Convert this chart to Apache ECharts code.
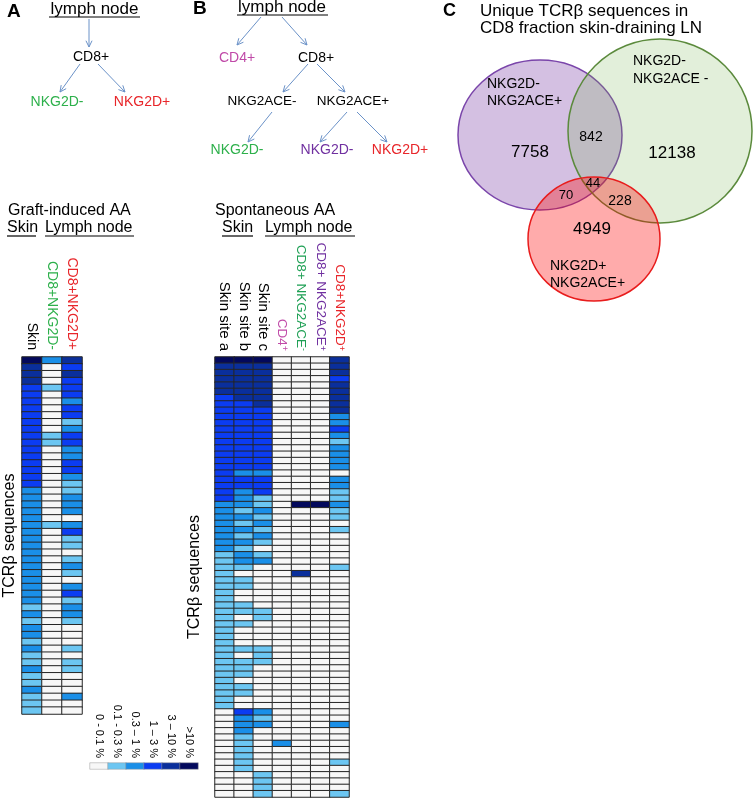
<!DOCTYPE html>
<html><head><meta charset="utf-8">
<script src="https://cdn.jsdelivr.net/npm/echarts@6/dist/echarts.min.js"></script>
<style>html,body{margin:0;padding:0;background:#fff}#c{width:754px;height:799px}</style>
</head><body><div id="c"></div>
<script>
// ---------------- DATA ----------------
const levelLabels = ['0 - 0.1 %', '0.1 - 0.3 %', '0.3 – 1 %', '1 – 3 %', '3 – 10 %', '>10 %'];
const levelValues = [0, 1, 2, 3, 4, 5];

// Panel A: graft-induced AA (level index per TCRβ sequence row)
const colsA = ['Skin', 'CD8+NKG2D-', 'CD8+NKG2D+'];
const skinA = [5,4,4,4,3,3,3,3,3,3, 3,3,3,3,3,3,3,3,3,2, 2,2,2,2,2,2,2,2,2,2, 2,2,2,2,2,2,1,2,1,2, 2,1,2,1,1,2,1,1,2,1, 1,1];
const nkg2dNegA = [2,0,0,0,1,0,0,0,0,0, 0,1,1,0,0,0,0,0,0,0, 0,0,0,0,1,0,0,0,0,0, 0,0,0,0,0,0,0,0,0,0, 0,0,0,0,0,0,0,0,0,0, 0,0];
const nkg2dPosA = [4,3,4,3,3,3,2,3,3,1, 2,3,3,2,2,3,3,2,1,1, 2,2,2,0,2,3,1,1,0,1, 2,1,0,2,3,1,2,2,1,0, 0,0,1,0,1,1,0,0,0,2, 0,0];

// Panel B: spontaneous AA
const colsB = ['Skin site a', 'Skin site b', 'Skin site c', 'CD4⁺', 'CD8+ NKG2ACE⁻', 'CD8+ NKG2ACE⁺', 'CD8+NKG2D⁺'];
const siteaB = [5,4,4,4,4,4,3,3,3,3, 3,3,3,3,3,3,3,3,3,3, 3,3,3,2,2,2,2,2,2,2, 2,1,1,1,1,1,1,1,1,1, 1,1,1,1,1,1,1,1,1,1, 1,1,1,1,1,1,0,0,0,0, 0,0,0,0,0,0,0,0,0,0];
const sitebB = [5,4,4,4,4,4,4,3,3,3, 3,3,3,3,3,3,3,3,2,3, 3,2,2,2,1,2,1,2,1,2, 1,2,2,1,0,1,1,0,0,1, 1,0,1,0,0,0,1,0,1,1, 1,0,1,1,0,0,3,2,2,2, 1,1,1,1,1,1,0,0,0,0];
const sitecB = [5,4,4,4,4,4,4,4,3,3, 3,3,3,3,3,3,3,3,2,3, 3,3,1,1,2,1,2,1,2,1, 0,1,2,0,0,0,0,0,0,0, 1,1,0,0,0,0,1,1,1,0, 0,0,0,0,0,0,2,1,2,0, 0,0,0,0,0,0,1,1,1,1];
const cd4B   = [0,0,0,0,0,0,0,0,0,0, 0,0,0,0,0,0,0,0,0,0, 0,0,0,0,0,0,0,0,0,0, 0,0,0,0,0,0,0,0,0,0, 0,0,0,0,0,0,0,0,0,0, 0,0,0,0,0,0,0,0,0,0, 0,2,0,0,0,0,0,0,0,0];
const aceNegB = [0,0,0,0,0,0,0,0,0,0, 0,0,0,0,0,0,0,0,0,0, 0,0,0,5,0,0,0,0,0,0, 0,0,0,0,4,0,0,0,0,0, 0,0,0,0,0,0,0,0,0,0, 0,0,0,0,0,0,0,0,0,0, 0,0,0,0,0,0,0,0,0,0];
const acePosB = [0,0,0,0,0,0,0,0,0,0, 0,0,0,0,0,0,0,0,0,0, 0,0,0,5,0,0,0,0,0,0, 0,0,0,0,0,0,0,0,0,0, 0,0,0,0,0,0,0,0,0,0, 0,0,0,0,0,0,0,0,0,0, 0,0,0,0,0,0,0,0,0,0];
const nkg2dPosB = [4,4,4,3,4,4,4,4,4,2, 2,3,2,1,2,2,2,2,0,2, 2,1,1,2,1,1,0,1,0,0, 0,0,0,1,0,0,0,0,0,0, 0,0,0,0,0,0,0,0,0,0, 0,0,0,0,0,0,0,0,2,0, 0,0,0,0,1,0,0,0,0,1];

// Panel C: Venn counts
const vennSetNames = [['NKG2D-', 'NKG2ACE+'], ['NKG2D-', 'NKG2ACE -'], ['NKG2D+', 'NKG2ACE+']];
const vennOnly = [7758, 12138, 4949];
const vennPairs = [842, 70, 228]; // purple∩green, purple∩red, green∩red
const vennAll = 44;

// ---------------- STYLE ----------------
const FONT = 'Liberation Sans, Arial, sans-serif';
const levelColors = ['#f7f7f7', '#6cc6f2', '#1a8fe8', '#0b3cf2', '#0a2f9c', '#03095c'];
const colColorsA = ['#000000', '#2db04b', '#e8262a'];
const labelKeysB = ['k', 'k', 'k', 'p', 'g', 'u', 'r'];
const richB = {
  k: { fontSize: 15, color: '#000', fontFamily: FONT },
  p: { fontSize: 13.5, color: '#c04aa8', fontFamily: FONT }, ps: { fontSize: 9, color: '#c04aa8', fontFamily: FONT, verticalAlign: 'top' },
  g: { fontSize: 13.5, color: '#1fa055', fontFamily: FONT }, gs: { fontSize: 9, color: '#1fa055', fontFamily: FONT, verticalAlign: 'top' },
  u: { fontSize: 13.5, color: '#7030a0', fontFamily: FONT }, us: { fontSize: 9, color: '#7030a0', fontFamily: FONT, verticalAlign: 'top' },
  r: { fontSize: 13.5, color: '#e8262a', fontFamily: FONT }, rs: { fontSize: 9, color: '#e8262a', fontFamily: FONT, verticalAlign: 'top' }
};
function fmtB(value, idx) {
  const k = labelKeysB[idx];
  const m = value.match(/^(.*?)([⁺⁻])$/);
  if (m) return '{' + k + '|' + m[1] + '}{' + k + 's|' + (m[2] === '⁺' ? '+' : '-') + '}';
  return '{' + k + '|' + value + '}';
}

function toCells(cols) {
  const out = [];
  cols.forEach((arr, c) => arr.forEach((v, r) => out.push([c, r, v])));
  return out;
}
const rowsA = skinA.map((_, i) => String(i));
const rowsB = siteaB.map((_, i) => String(i));

const cellStyle = { borderColor: '#262626', borderWidth: 1 };

function txt(x, y, text, o) {
  o = o || {};
  return { type: 'text', x: x, y: y, silent: true, z: 10,
    style: { text: text, fontSize: o.size || 14, fontFamily: FONT, fontWeight: o.weight || 'normal',
      fill: o.color || '#000', align: o.align || 'center', verticalAlign: o.valign || 'middle' } };
}
function seg(x1, y1, x2, y2, color, w) {
  return { type: 'line', silent: true, shape: { x1, y1, x2, y2 }, style: { stroke: color || '#000', lineWidth: w || 1 } };
}
function arrow(x1, y1, x2, y2) {
  const c = '#6b92c8';
  const a = Math.atan2(y2 - y1, x2 - x1), L = 7, s = 0.45;
  return [seg(x1, y1, x2, y2, c, 1),
    { type: 'polyline', silent: true, shape: { points: [
      [x2 - L * Math.cos(a - s), y2 - L * Math.sin(a - s)], [x2, y2],
      [x2 - L * Math.cos(a + s), y2 - L * Math.sin(a + s)]] }, style: { stroke: c, fill: null, lineWidth: 1 } }];
}

const graphics = [];
// Panel A tree
graphics.push(txt(7, 12, 'A', { size: 19, weight: 'bold', align: 'left' }));
graphics.push(txt(94.5, 9, 'lymph node', { size: 17 }));
graphics.push(seg(49, 17, 140, 17, '#000', 1));
graphics.push(...arrow(89, 19, 89, 47));
graphics.push(txt(91, 57, 'CD8+', { size: 14 }));
graphics.push(...arrow(80, 64, 60, 92));
graphics.push(...arrow(98, 64, 125, 92));
graphics.push(txt(57, 102, 'NKG2D-', { size: 14, color: '#2db04b' }));
graphics.push(txt(142, 102, 'NKG2D+', { size: 14, color: '#e8262a' }));
// Panel B tree
graphics.push(txt(193, 9, 'B', { size: 19, weight: 'bold', align: 'left' }));
graphics.push(txt(282, 7, 'lymph node', { size: 17 }));
graphics.push(seg(237, 15, 328, 15, '#000', 1));
graphics.push(...arrow(261, 17, 237, 45));
graphics.push(...arrow(282, 17, 307, 45));
graphics.push(txt(237, 58, 'CD4+', { size: 14, color: '#c04aa8' }));
graphics.push(txt(316, 58, 'CD8+', { size: 14 }));
graphics.push(...arrow(308, 64, 283, 92));
graphics.push(...arrow(317, 64, 345, 92));
graphics.push(txt(262, 101, 'NKG2ACE-', { size: 13.5 }));
graphics.push(txt(353, 101, 'NKG2ACE+', { size: 13.5 }));
graphics.push(...arrow(272, 112, 248, 142));
graphics.push(...arrow(347, 112, 320, 142));
graphics.push(...arrow(357, 112, 387, 142));
graphics.push(txt(237, 150, 'NKG2D-', { size: 14, color: '#2db04b' }));
graphics.push(txt(327, 150, 'NKG2D-', { size: 14, color: '#7030a0' }));
graphics.push(txt(400, 150, 'NKG2D+', { size: 14, color: '#e8262a' }));
// Heatmap headers
graphics.push(txt(8, 211, 'Graft-induced AA', { size: 16, align: 'left' }));
graphics.push(txt(7, 228, 'Skin', { size: 16, align: 'left' }));
graphics.push(txt(45, 228, 'Lymph node', { size: 16, align: 'left' }));
graphics.push(seg(7, 236, 36, 236, '#000', 1.2));
graphics.push(seg(45, 236, 134, 236, '#000', 1.2));
graphics.push(txt(215, 211, 'Spontaneous AA', { size: 16, align: 'left' }));
graphics.push(txt(222, 228, 'Skin', { size: 16, align: 'left' }));
graphics.push(txt(265, 228, 'Lymph node', { size: 16, align: 'left' }));
graphics.push(seg(222, 236, 253, 236, '#000', 1.2));
graphics.push(seg(265, 236, 355, 236, '#000', 1.2));
// Panel C Venn
graphics.push(txt(443, 11, 'C', { size: 18, weight: 'bold', align: 'left' }));
graphics.push(txt(480, 11, 'Unique TCRβ sequences in', { size: 17, align: 'left' }));
graphics.push(txt(480, 28, 'CD8 fraction skin-draining LN', { size: 17, align: 'left' }));
graphics.push({ type: 'ellipse', silent: true, shape: { cx: 540, cy: 135, rx: 82, ry: 75 },
  style: { fill: 'rgba(112,48,160,0.30)', stroke: '#7a45aa', lineWidth: 1.5 } });
graphics.push({ type: 'circle', silent: true, shape: { cx: 660, cy: 131, r: 92 },
  style: { fill: 'rgba(112,173,71,0.20)', stroke: '#5b8a3c', lineWidth: 1.5 } });
graphics.push({ type: 'ellipse', silent: true, shape: { cx: 594, cy: 239, rx: 66, ry: 62 },
  style: { fill: 'rgba(255,0,0,0.33)', stroke: '#e81c1c', lineWidth: 1.5 } });
graphics.push(txt(487, 84, vennSetNames[0][0], { size: 14, align: 'left' }));
graphics.push(txt(487, 101, vennSetNames[0][1], { size: 14, align: 'left' }));
graphics.push(txt(633, 61, vennSetNames[1][0], { size: 14, align: 'left' }));
graphics.push(txt(633, 79, vennSetNames[1][1], { size: 14, align: 'left' }));
graphics.push(txt(550, 266, vennSetNames[2][0], { size: 14, align: 'left' }));
graphics.push(txt(550, 283, vennSetNames[2][1], { size: 14, align: 'left' }));
graphics.push(txt(530, 152, String(vennOnly[0]), { size: 17 }));
graphics.push(txt(672, 153, String(vennOnly[1]), { size: 17 }));
graphics.push(txt(592, 229, String(vennOnly[2]), { size: 17 }));
graphics.push(txt(591, 137, String(vennPairs[0]), { size: 14 }));
graphics.push(txt(566, 195, String(vennPairs[1]), { size: 13 }));
graphics.push(txt(620, 201, String(vennPairs[2]), { size: 14 }));
graphics.push(txt(593, 183, String(vennAll), { size: 13 }));

const hideAxis = { axisLine: { show: false }, axisTick: { show: false }, splitLine: { show: false } };

const option = {
  animation: false,
  backgroundColor: '#fff',
  textStyle: { fontFamily: FONT },
  grid: [
    { left: 22, top: 357, width: 60, height: 357 },
    { left: 215, top: 357, width: 134, height: 440 },
    { left: 90, top: 763, width: 108, height: 6 }
  ],
  xAxis: [
    Object.assign({ gridIndex: 0, type: 'category', data: colsA, position: 'top',
      axisLabel: { interval: 0, hideOverlap: false, rotate: 90, margin: 7, fontSize: 14, fontFamily: FONT, color: (v, i) => colColorsA[i] } }, hideAxis),
    Object.assign({ gridIndex: 1, type: 'category', data: colsB, position: 'top',
      axisLabel: { interval: 0, hideOverlap: false, rotate: 90, margin: 6, formatter: fmtB, rich: richB } }, hideAxis),
    Object.assign({ gridIndex: 2, type: 'category', data: levelLabels, position: 'top',
      axisLabel: { interval: 0, hideOverlap: false, rotate: 90, margin: 5, fontSize: 11, fontFamily: FONT, color: '#000' } }, hideAxis)
  ],
  yAxis: [
    Object.assign({ gridIndex: 0, type: 'category', data: rowsA, inverse: true, axisLabel: { show: false },
      name: 'TCRβ sequences', nameLocation: 'middle', nameGap: 4, nameRotate: 90,
      nameTextStyle: { fontSize: 16, fontFamily: FONT, color: '#000' } }, hideAxis),
    Object.assign({ gridIndex: 1, type: 'category', data: rowsB, inverse: true, axisLabel: { show: false },
      name: 'TCRβ sequences', nameLocation: 'middle', nameGap: 12, nameRotate: 90,
      nameTextStyle: { fontSize: 16, fontFamily: FONT, color: '#000' } }, hideAxis),
    Object.assign({ gridIndex: 2, type: 'category', data: [''], axisLabel: { show: false } }, hideAxis)
  ],
  visualMap: {
    type: 'piecewise', show: false, dimension: 2, seriesIndex: [0, 1, 2],
    pieces: levelValues.map((v, i) => ({ value: v, color: levelColors[i] }))
  },
  series: [
    { type: 'heatmap', xAxisIndex: 0, yAxisIndex: 0, data: toCells([skinA, nkg2dNegA, nkg2dPosA]),
      itemStyle: cellStyle, emphasis: { disabled: true } },
    { type: 'heatmap', xAxisIndex: 1, yAxisIndex: 1,
      data: toCells([siteaB, sitebB, sitecB, cd4B, aceNegB, acePosB, nkg2dPosB]),
      itemStyle: cellStyle, emphasis: { disabled: true } },
    { type: 'heatmap', xAxisIndex: 2, yAxisIndex: 2, data: levelValues.map((v, i) => [i, 0, v]),
      itemStyle: { borderColor: '#9a9a9a', borderWidth: 0.5 }, emphasis: { disabled: true } }
  ],
  graphic: graphics
};

const chart = echarts.init(document.getElementById('c'), null, { renderer: 'canvas' });
chart.setOption(option);
</script>
</body></html>
